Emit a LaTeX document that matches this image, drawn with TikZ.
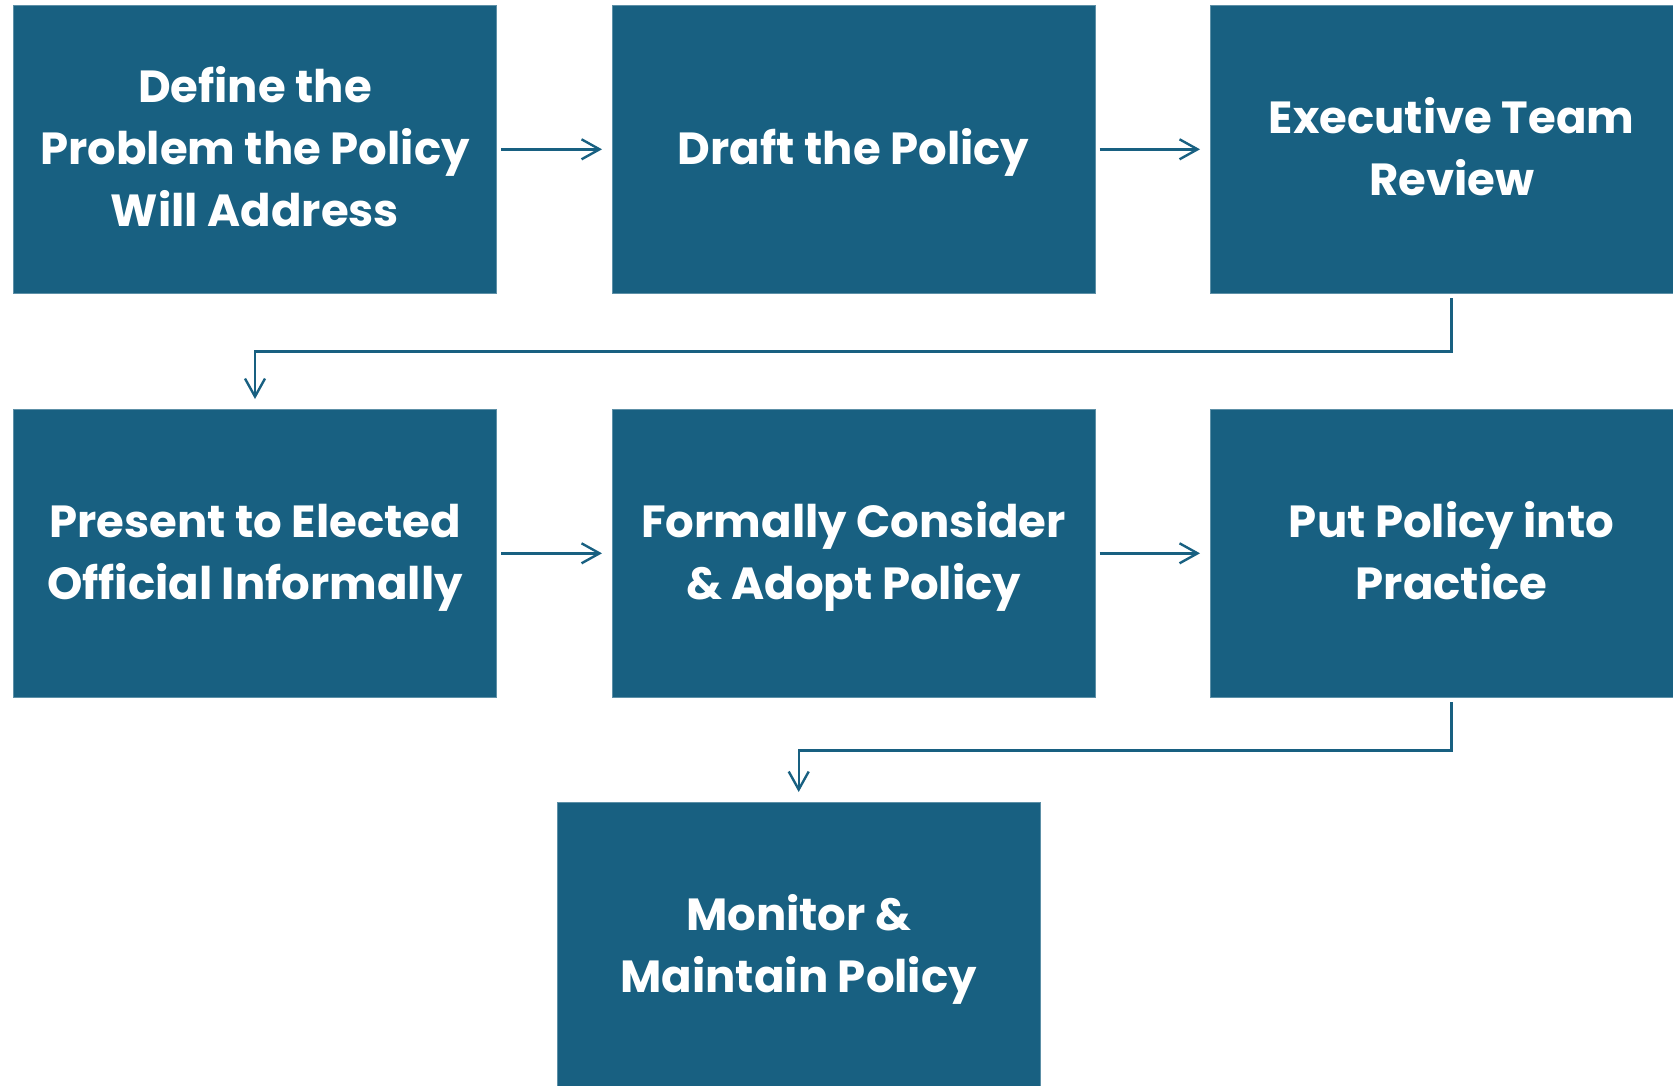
\documentclass[tikz,border=0pt]{standalone}
\usepackage{fontspec}
\setmainfont{Poppins}
\usetikzlibrary{arrows.meta}
\definecolor{stepblue}{RGB}{24,96,129}
% strut that puts the middle of the capitals on the node centre
\newcommand\capstrut{\rule[-0.3em]{0pt}{1.267em}}
\begin{document}
\begin{tikzpicture}[x=1pt,y=-1pt,
  stepbox/.style={fill=stepblue,draw=stepblue!70!white,line width=0.6pt,
    minimum width=482.6pt,minimum height=288pt,inner sep=0pt,
    text=white,align=center,
    font=\fontsize{45}{61.7}\selectfont\bfseries},
  flow/.style={draw=stepblue,line width=2.4pt,
    -{Straight Barb[length=18pt,width=20pt,line width=2.4pt]},
    shorten <=4.5pt,shorten >=10pt}]
  \clip (0,0) rectangle (1673,1085);
  \useasboundingbox (0,0) rectangle (1673,1085);

  % top row
  \node[stepbox] (define)  at (255,149.3)    {\capstrut Define the\\\capstrut Problem the Policy\\\capstrut Will Address};
  \node[stepbox] (draft)   at (853.6,149.3)  {\capstrut Draft the Policy};
  \node[stepbox] (exec)    at (1451.6,149.3) {\capstrut Executive Team\\\capstrut Review};
  % middle row
  \node[stepbox] (present) at (255,553.3)    {\capstrut Present to Elected\\\capstrut Official Informally};
  \node[stepbox] (adopt)   at (853.6,553.3)  {\capstrut Formally Consider\\\capstrut\& Adopt Policy};
  \node[stepbox] (practice)at (1451.6,553.3) {\capstrut Put Policy into\\\capstrut Practice};
  % last step
  \node[stepbox] (monitor) at (798.7,946.3)  {\capstrut Monitor \&\\\capstrut Maintain Policy};

  % connectors
  \draw[flow] (define) -- (draft);
  \draw[flow] (draft) -- (exec);
  \draw[flow] (exec.south) -- ++(0,58) -| (present.north);
  \draw[flow] (present) -- (adopt);
  \draw[flow] (adopt) -- (practice);
  \draw[flow] (practice.south) -- ++(0,53) -| (monitor.north);
\end{tikzpicture}
\end{document}
